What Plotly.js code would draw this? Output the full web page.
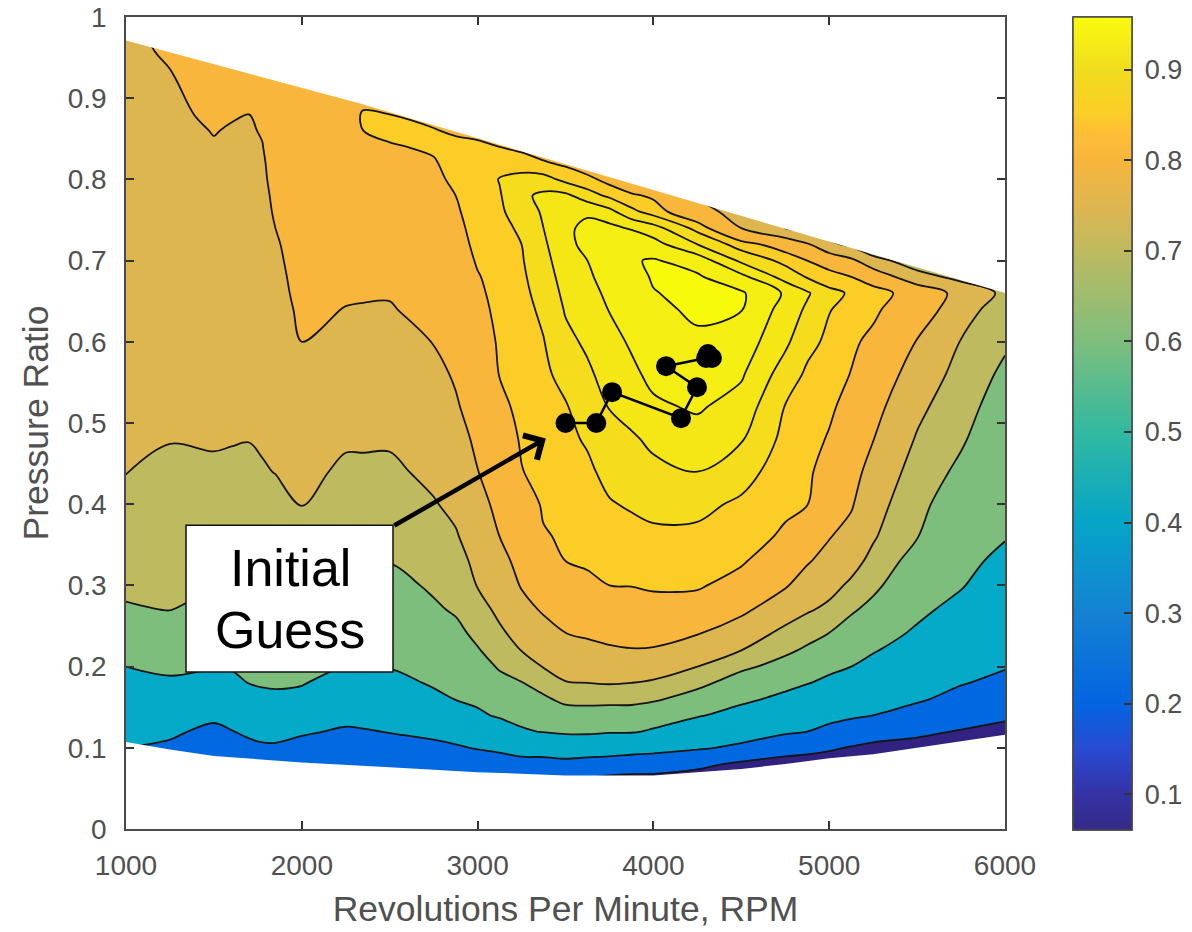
<!DOCTYPE html>
<html><head><meta charset="utf-8">
<script src="https://cdn.plot.ly/plotly-3.0.1.min.js"></script>
<style>html,body{margin:0;padding:0;background:#fff}</style></head>
<body><div id="chart" style="width:1192px;height:932px"></div>
<script>
const rpm=[1000,1250,1500,1600,1700,1775,1850,2000,2250,2350,2500,2750,2875,3000,3125,3250,3375,3500,3625,3750,3875,4000,4250,4500,4750,4875,5000,5125,5250,5500,5750,6000];
const pressureRatio=[0,.06,.08,.10,.12,.14,.16,.18,.20,.22,.24,.27,.30,.33,.36,.40,.44,.48,.52,.56,.60,.64,.66,.68,.70,.72,.74,.76,.78,.80,.82,.84,.86,.88,.92,.96,1];
const c1000=[.30,.34,.37,.40,.44,.48,.52,.56,.60,.63,.656,.696,.708,.717,.727,.739,.751,.755,.757,.76,.762,.765,.766,.767,.768,.77,.77,.772,.773,.774,.775,.776,.777,.778,.785,.795,.795];
const c1250=[.25,.32,.35,.38,.42,.477,.53,.586,.618,.643,.668,.701,.708,.716,.723,.733,.744,.751,.757,.76,.765,.77,.772,.774,.775,.777,.779,.781,.783,.785,.787,.789,.792,.794,.798,.803,.81];
const c1500=[.2,.25,.28,.32,.37,.427,.493,.56,.608,.629,.649,.68,.703,.712,.721,.733,.745,.753,.758,.763,.768,.773,.775,.778,.78,.783,.786,.788,.791,.793,.796,.798,.801,.805,.81,.815,.82];
const c1600=[.22,.28,.31,.35,.395,.45,.51,.57,.61,.63,.648,.676,.702,.711,.72,.731,.743,.752,.758,.763,.768,.773,.775,.778,.78,.782,.785,.787,.79,.792,.794,.796,.798,.802,.807,.812,.817];
const c1700=[.25,.31,.34,.37,.422,.486,.549,.603,.619,.635,.652,.676,.70,.709,.718,.729,.741,.751,.756,.761,.765,.77,.773,.775,.777,.78,.782,.785,.787,.79,.792,.795,.797,.80,.804,.81,.815];
const c1775=[.25,.31,.34,.38,.44,.505,.575,.61,.625,.64,.655,.677,.70,.71,.72,.734,.747,.754,.759,.764,.769,.774,.776,.779,.781,.784,.786,.789,.791,.794,.796,.799,.802,.805,.81,.815,.82];
const c1850=[.25,.31,.34,.38,.445,.514,.583,.611,.626,.641,.656,.678,.70,.711,.723,.738,.751,.758,.764,.771,.777,.783,.787,.79,.793,.796,.80,.804,.807,.81,.812,.814,.816,.818,.82,.82,.82];
const c2000=[.25,.30,.33,.36,.415,.491,.566,.608,.624,.639,.655,.677,.70,.716,.731,.751,.761,.771,.78,.79,.80,.808,.811,.813,.815,.817,.818,.819,.82,.821,.822,.823,.824,.825,.825,.825,.825];
const c2250=[.25,.29,.32,.35,.384,.438,.492,.546,.60,.618,.636,.664,.691,.707,.717,.73,.743,.755,.766,.777,.788,.799,.804,.807,.81,.813,.816,.819,.822,.825,.827,.83,.832,.835,.835,.835,.835];
const c2350=[.25,.285,.315,.35,.39,.446,.504,.562,.607,.624,.64,.663,.688,.705,.715,.729,.743,.755,.766,.777,.788,.798,.803,.808,.813,.818,.823,.828,.832,.837,.841,.845,.85,.853,.83,.82,.82];
const c2500=[.25,.28,.31,.35,.405,.459,.512,.565,.605,.621,.636,.659,.682,.702,.713,.727,.742,.755,.765,.776,.787,.797,.803,.808,.813,.818,.823,.828,.833,.838,.843,.848,.855,.85,.83,.82,.82];
const c2750=[.25,.28,.31,.365,.435,.505,.575,.612,.629,.647,.665,.692,.708,.72,.732,.747,.76,.77,.78,.79,.801,.814,.817,.821,.825,.829,.832,.836,.84,.844,.848,.853,.852,.84,.82,.81,.80];
const c2875=[.22,.28,.32,.385,.454,.53,.603,.624,.645,.665,.685,.706,.72,.733,.746,.76,.772,.784,.796,.804,.812,.82,.824,.829,.833,.838,.842,.846,.85,.855,.858,.86,.845,.83,.815,.805,.80];
const c3000=[.2,.27,.32,.409,.496,.583,.62,.646,.671,.696,.712,.733,.752,.762,.772,.786,.799,.808,.816,.824,.832,.84,.844,.848,.853,.857,.86,.863,.866,.868,.866,.857,.84,.83,.81,.80,.80];
const c3125=[.2,.26,.33,.43,.54,.613,.647,.68,.707,.724,.742,.76,.773,.787,.80,.811,.822,.833,.843,.851,.854,.858,.86,.861,.863,.865,.868,.871,.873,.876,.86,.85,.83,.82,.805,.795,.795];
const c3250=[.2,.25,.345,.467,.588,.63,.664,.698,.725,.751,.765,.785,.803,.813,.823,.836,.849,.853,.857,.86,.864,.867,.869,.871,.873,.875,.879,.887,.895,.885,.86,.845,.83,.82,.80,.79,.79];
const c3375=[.18,.23,.34,.48,.605,.65,.69,.725,.752,.767,.782,.805,.823,.84,.848,.853,.858,.862,.866,.87,.874,.88,.884,.888,.892,.896,.90,.903,.905,.885,.853,.835,.82,.81,.80,.785,.785];
const c3500=[.15,.2,.35,.504,.618,.671,.715,.748,.766,.783,.799,.817,.834,.85,.853,.859,.864,.869,.873,.883,.894,.902,.906,.91,.914,.918,.921,.924,.906,.868,.845,.83,.82,.81,.80,.78,.78];
const c3625=[.12,.18,.33,.50,.62,.675,.717,.75,.767,.783,.807,.828,.845,.853,.859,.866,.87,.878,.888,.896,.904,.912,.917,.921,.925,.932,.93,.922,.886,.858,.83,.81,.80,.79,.77,.76,.76];
const c3750=[.1,.15,.32,.49,.61,.67,.718,.753,.774,.795,.81,.831,.85,.857,.864,.873,.883,.892,.901,.909,.917,.926,.93,.935,.94,.943,.932,.908,.87,.84,.82,.80,.79,.78,.76,.75,.75];
const c3875=[.09,.14,.30,.475,.61,.665,.72,.75,.777,.798,.813,.832,.851,.859,.866,.878,.888,.896,.911,.92,.928,.935,.938,.942,.948,.95,.922,.882,.855,.82,.80,.79,.78,.77,.76,.745,.745];
const c4000=[.08,.14,.29,.456,.587,.654,.709,.745,.77,.795,.82,.838,.854,.862,.87,.882,.893,.906,.921,.931,.938,.945,.949,.952,.952,.935,.91,.865,.845,.80,.79,.78,.77,.76,.75,.74,.74];
const c4250=[.06,.12,.24,.42,.516,.61,.672,.718,.75,.776,.801,.833,.854,.862,.87,.881,.90,.915,.928,.937,.946,.954,.956,.953,.94,.90,.867,.82,.795,.78,.77,.76,.75,.74,.73,.72,.72];
const c4500=[.05,.1,.17,.37,.472,.557,.623,.669,.713,.75,.775,.809,.836,.854,.861,.871,.885,.902,.915,.928,.939,.951,.953,.932,.895,.863,.80,.78,.76,.75,.74,.73,.72,.71,.70,.70,.70];
const c4750=[.05,.08,.13,.28,.423,.50,.574,.63,.677,.712,.737,.773,.804,.825,.846,.855,.862,.868,.874,.888,.905,.915,.922,.89,.868,.833,.75,.73,.72,.71,.70,.69,.68,.67,.66,.65,.65];
const c4875=[.05,.075,.125,.25,.40,.47,.54,.605,.655,.69,.72,.755,.78,.804,.826,.851,.857,.862,.866,.871,.882,.896,.903,.873,.85,.805,.74,.72,.71,.70,.69,.68,.67,.66,.65,.64,.64];
const c5000=[.05,.07,.12,.22,.358,.446,.511,.577,.624,.661,.698,.74,.765,.784,.802,.817,.832,.847,.856,.862,.87,.876,.882,.861,.835,.76,.72,.70,.69,.68,.67,.66,.65,.64,.63,.62,.62];
const c5125=[.05,.07,.12,.19,.31,.425,.49,.545,.60,.635,.67,.708,.742,.767,.787,.804,.815,.826,.837,.849,.855,.868,.872,.85,.81,.74,.70,.69,.68,.67,.66,.65,.64,.63,.62,.61,.61];
const c5250=[.05,.07,.12,.16,.278,.40,.454,.508,.562,.609,.638,.682,.714,.737,.755,.77,.785,.801,.815,.829,.843,.856,.865,.83,.77,.70,.69,.68,.67,.66,.65,.64,.63,.62,.61,.60,.60];
const c5500=[.05,.08,.11,.15,.229,.327,.422,.454,.498,.541,.585,.621,.649,.676,.702,.716,.731,.746,.761,.78,.798,.825,.832,.77,.72,.69,.68,.67,.66,.65,.64,.63,.62,.61,.60,.59,.59];
const c5750=[.05,.09,.12,.16,.19,.27,.346,.41,.446,.481,.516,.569,.607,.624,.642,.665,.688,.707,.721,.734,.748,.775,.785,.735,.70,.67,.66,.65,.64,.63,.62,.61,.60,.59,.58,.57,.57];
const c6000=[.05,.08,.10,.13,.17,.218,.288,.358,.41,.436,.462,.50,.539,.578,.605,.622,.639,.656,.672,.689,.708,.72,.74,.72,.70,.68,.67,.66,.65,.64,.63,.62,.61,.60,.59,.58,.58];
const zColumns=[c1000,c1250,c1500,c1600,c1700,c1775,c1850,c2000,c2250,c2350,c2500,c2750,c2875,c3000,c3125,c3250,c3375,c3500,c3625,c3750,c3875,c4000,c4250,c4500,c4750,c4875,c5000,c5125,c5250,c5500,c5750,c6000];

const lineLevels=[.2,.4,.6,.7,.75,.8,.85,.875,.9,.925,.95];
const bandColors=['rgb(50,35,130)','rgb(2,105,225)','rgb(5,170,200)','rgb(125,190,125)','rgb(190,186,95)','rgb(222,182,80)','rgb(248,182,60)','rgb(252,205,38)','rgb(245,220,28)','rgb(245,230,22)','rgb(245,238,18)','rgb(247,250,10)'];

const lowerEdgeX=[1000,1250,1500,2000,2500,3000,3500,4000,4250,4500,4750,5000,5250,5500,5750,6000];
const lowerEdgeY=[.107,.098,.09,.082,.076,.07,.066,.066,.07,.074,.08,.087,.092,.10,.108,.116];
const upperEdgeX=[1000,2331,3525,5698,6000,6000,1000];
const upperEdgeY=[.971,.8935,.817,.679,.66,1,1];

const pathX=[3500,3675,3765,4157,4248,4072,4300,4333,4310];
const pathY=[.50,.50,.538,.506,.544,.57,.58,.58,.585];

const parula=[[0,'rgb(53,42,135)'],[.044,'rgb(52,50,165)'],[.1,'rgb(40,75,210)'],[.155,'rgb(3,100,225)'],[.267,'rgb(20,130,210)'],[.378,'rgb(5,165,200)'],[.49,'rgb(50,185,160)'],[.6,'rgb(125,190,125)'],[.712,'rgb(190,186,95)'],[.768,'rgb(222,182,80)'],[.824,'rgb(247,182,60)'],[.857,'rgb(255,190,55)'],[.88,'rgb(252,205,40)'],[.935,'rgb(240,220,30)'],[1,'rgb(249,251,14)']];
const colorbarTicks=[.1,.2,.3,.4,.5,.6,.7,.8,.9];
const yTicks=[0,.1,.2,.3,.4,.5,.6,.7,.8,.9,1];
const xTicks=[1000,2000,3000,4000,5000,6000];

const fStart=.04,fEnd=.96,fSize=.005;
const low=fStart-fSize/2,high=fEnd+fSize/2;
const fillScale=[[0,bandColors[0]]];
lineLevels.forEach((L,i)=>{const p=(L-low)/(high-low);fillScale.push([p,bandColors[i]],[p,bandColors[i+1]]);});
fillScale.push([1,bandColors[bandColors.length-1]]);

const font='"Liberation Sans",Arial,sans-serif', grey='#505050', frame='#4a4a4a';
const traces=[{type:'contour',x:rpm,y:pressureRatio,z:zColumns,transpose:true,autocontour:false,
  contours:{start:fStart,end:fEnd,size:fSize,coloring:'fill',showlines:false},
  colorscale:fillScale,showscale:false,line:{width:0,smoothing:1},hoverinfo:'skip'}];
lineLevels.forEach(L=>traces.push({type:'contour',x:rpm,y:pressureRatio,z:zColumns,transpose:true,autocontour:false,
  contours:{start:L,end:L,size:.025,coloring:'none'},showscale:false,line:{color:'#151515',width:1.8,smoothing:1},hoverinfo:'skip'}));
traces.push({type:'scatter',mode:'lines',x:lowerEdgeX,y:lowerEdgeY,fill:'tozeroy',fillcolor:'#fff',line:{width:0,color:'#fff'},hoverinfo:'skip',showlegend:false});
traces.push({type:'scatter',mode:'lines',x:upperEdgeX,y:upperEdgeY,fill:'toself',fillcolor:'#fff',line:{width:0,color:'#fff'},hoverinfo:'skip',showlegend:false});
traces.push({type:'scatter',mode:'lines+markers',x:pathX,y:pathY,line:{color:'#000',width:2.5},marker:{color:'#000',size:20},hoverinfo:'skip',showlegend:false});
const barBase={x:1.0774,xanchor:'left',y:1,yanchor:'top',lenmode:'pixels',len:812.5,thicknessmode:'pixels',thickness:59,xpad:0,ypad:0,outlinecolor:frame,outlinewidth:1.5,borderwidth:0,tickvals:colorbarTicks,tickfont:{family:font,size:27,color:grey}};
const barLabels=Object.assign({},barBase,{ticks:'outside',ticklen:7,tickwidth:1,tickcolor:'rgba(0,0,0,0)'});
const barMarks=Object.assign({},barBase,{ticks:'inside',ticklen:8,tickwidth:1.5,tickcolor:'#333',showticklabels:false});
[barLabels,barMarks].forEach(cb=>traces.push({type:'scatter',mode:'markers',x:[-100,-100],y:[-1,-1],hoverinfo:'skip',showlegend:false,
  marker:{size:1,opacity:0,color:[.0607,.958],cmin:.0607,cmax:.958,colorscale:parula,showscale:true,colorbar:cb}}));

const axis={showgrid:false,zeroline:false,showline:true,mirror:'ticks',linecolor:frame,linewidth:1.5,ticks:'inside',ticklen:8,tickwidth:1.5,tickcolor:'#333',tickfont:{family:font,size:28,color:grey}};
Plotly.newPlot('chart',traces,{
  width:1192,height:932,autosize:false,showlegend:false,paper_bgcolor:'#fff',plot_bgcolor:'#fff',
  margin:{l:126,r:187,t:16.5,b:103,pad:0,autoexpand:false},
  xaxis:Object.assign({},axis,{range:[1000,6000],tickmode:'array',tickvals:xTicks,ticklabelstandoff:11,title:{text:'Revolutions Per Minute, RPM',font:{family:font,size:35.5,color:grey},standoff:16}}),
  yaxis:Object.assign({},axis,{range:[0,1],tickmode:'array',tickvals:yTicks,ticklabelstandoff:12,title:{text:'Pressure Ratio',font:{family:font,size:35.5,color:grey},standoff:8}}),
  shapes:[{type:'rect',xref:'paper',yref:'paper',x0:(186-126)/879,x1:(393-126)/879,y0:(829-672)/812.5,y1:(829-525)/812.5,fillcolor:'#fff',line:{color:'#111',width:1.5},layer:'above'}],
  annotations:[
   {x:3388,y:.481,xref:'x',yref:'y',ax:-153,ay:88,axref:'pixel',ayref:'pixel',text:'',showarrow:true,arrowhead:4,arrowsize:1.2,arrowwidth:4.5,arrowcolor:'#000',standoff:0},
   {x:(290-126)/879,y:(829-568)/812.5,xref:'paper',yref:'paper',text:'Initial',showarrow:false,font:{family:font,size:52,color:'#000'},xanchor:'center',yanchor:'middle'},
   {x:(290-126)/879,y:(829-630)/812.5,xref:'paper',yref:'paper',text:'Guess',showarrow:false,font:{family:font,size:52,color:'#000'},xanchor:'center',yanchor:'middle'}
  ]
},{displayModeBar:false,responsive:false});
</script></body></html>
